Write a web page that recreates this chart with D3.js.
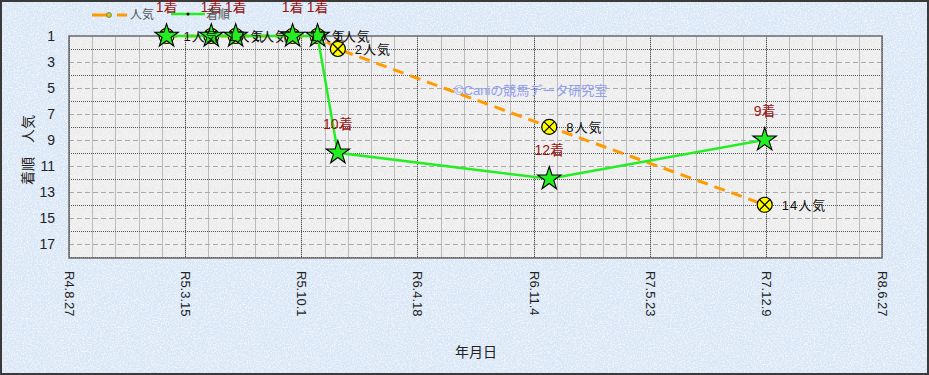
<!DOCTYPE html>
<html>
<head>
<meta charset="utf-8">
<script src="https://cdn.jsdelivr.net/npm/d3@7"></script>
<style>
html, body { margin: 0; padding: 0; background: #fff; }
svg { display: block; font-family: "Liberation Sans", "Noto Sans CJK JP", sans-serif; }
</style>
</head>
<body>
<svg id="chart" width="929" height="375"></svg>
<script>
// race data
var raceDates = ["2023-02-11", "2023-04-29", "2023-06-10", "2023-09-16", "2023-10-29", "2023-12-03", "2024-12-01", "2025-12-07"];
var finish = [1, 1, 1, 1, 1, 10, 12, 9];
var popularity = [1, 1, 1, 1, 1, 2, 8, 14];
// axis
var xTickDates = ["2022-08-27", "2023-03-15", "2023-10-01", "2024-04-18", "2024-11-04", "2025-05-23", "2025-12-09", "2026-06-27"];
var yTickValues = [1, 3, 5, 7, 9, 11, 13, 15, 17];

var parse = d3.utcParse("%Y-%m-%d");
var data = raceDates.map(function(d, i) {
  return {date: parse(d), finish: finish[i], pop: popularity[i]};
});
var xTicks = xTickDates.map(parse);

var svg = d3.select("#chart");
var W = 929, H = 375;
var margin = {top: 36, right: 47, bottom: 117, left: 69};
var width = W - margin.left - margin.right;
var height = H - margin.top - margin.bottom;

// textures (white speckles)
var defs = svg.append("defs");
var f = defs.append("filter").attr("id", "noise").attr("x", 0).attr("y", 0).attr("width", "100%").attr("height", "100%");
f.append("feTurbulence").attr("type", "fractalNoise").attr("baseFrequency", 0.7).attr("numOctaves", 2).attr("seed", 3);
f.append("feColorMatrix").attr("type", "matrix")
  .attr("values", "0 0 0 0 1  0 0 0 0 1  0 0 0 0 1  0 0 0 -3 1.8");
var f2 = defs.append("filter").attr("id", "noise2").attr("x", 0).attr("y", 0).attr("width", "100%").attr("height", "100%");
f2.append("feTurbulence").attr("type", "fractalNoise").attr("baseFrequency", 0.9).attr("numOctaves", 2).attr("seed", 7);
f2.append("feColorMatrix").attr("type", "matrix")
  .attr("values", "0 0 0 0 0.6  0 0 0 0 0.6  0 0 0 0 0.6  0 0 0 3 -1.5");

svg.append("rect").attr("width", W).attr("height", H).attr("fill", "#d8e6f6");
svg.append("rect").attr("width", W).attr("height", H).attr("filter", "url(#noise)").attr("opacity", 0.6);
svg.append("rect").attr("x", 1).attr("y", 1).attr("width", W - 2).attr("height", H - 2)
  .attr("fill", "none").attr("stroke", "#3a3a3a").attr("stroke-width", 2);

var g = svg.append("g").attr("transform", "translate(" + margin.left + "," + margin.top + ")");

g.append("rect").attr("width", width).attr("height", height).attr("fill", "#f1f1f1");
g.append("rect").attr("width", width).attr("height", height).attr("filter", "url(#noise2)").attr("opacity", 0.35);

var xScale = d3.scaleUtc()
  .domain([xTicks[0], xTicks[xTicks.length - 1]])
  .range([0, width]);
var yScale = d3.scaleLinear()
  .domain([1, 18.1])
  .range([0, height]);

// minor vertical grid every 40 days
var minor = d3.range(40, 1400, 40).map(function(n) { return d3.utcDay.offset(xTicks[0], n); });
g.append("g").selectAll("line")
  .data(minor)
  .enter()
  .append("line")
  .attr("x1", function(d) { return Math.round(xScale(d)) + 0.5; })
  .attr("x2", function(d) { return Math.round(xScale(d)) + 0.5; })
  .attr("y1", 0).attr("y2", height)
  .attr("stroke", "#bbbbbb").attr("stroke-width", 1);

// horizontal grid
g.append("g").selectAll("line")
  .data(d3.range(2, 19))
  .enter()
  .append("line")
  .attr("x1", 0).attr("x2", width)
  .attr("y1", function(d) { return Math.round(yScale(d)) + 0.5; })
  .attr("y2", function(d) { return Math.round(yScale(d)) + 0.5; })
  .attr("stroke", function(d) { return d % 2 == 0 ? "#555" : "#aaaaaa"; })
  .attr("stroke-dasharray", function(d) { return d % 2 == 0 ? "1,1" : "5,3"; })
  .attr("stroke-width", 1);

// major vertical grid
g.append("g").selectAll("line")
  .data(xTicks)
  .enter()
  .append("line")
  .attr("x1", function(d) { return Math.round(xScale(d)) + 0.5; })
  .attr("x2", function(d) { return Math.round(xScale(d)) + 0.5; })
  .attr("y1", 0).attr("y2", height)
  .attr("stroke", "#555").attr("stroke-dasharray", "1,1");

g.append("rect").attr("width", width).attr("height", height)
  .attr("fill", "none").attr("stroke", "#6a6a6a").attr("stroke-width", 1.5);

// axes
var yAxis = d3.axisLeft(yScale).tickValues(yTickValues).tickSize(0).tickPadding(14);
var ya = g.append("g").call(yAxis);
ya.select(".domain").remove();
ya.selectAll("text").attr("font-size", "14px").attr("fill", "#222")
  .attr("font-family", "Liberation Sans, sans-serif");

var xAxis = d3.axisBottom(xScale).tickValues(xTicks).tickSize(0)
  .tickFormat(function(d) {
    return "R" + (d.getUTCFullYear() - 2018) + "." + (d.getUTCMonth() + 1) + "." + d.getUTCDate();
  });
var xa = g.append("g").attr("transform", "translate(0," + height + ")").call(xAxis);
xa.select(".domain").remove();
xa.selectAll("text")
  .attr("transform", "rotate(90)")
  .attr("x", 13).attr("y", 0).attr("dy", "0.35em")
  .style("text-anchor", "start")
  .attr("font-size", "13px").attr("fill", "#222");

// legend
var leg = svg.append("g");
leg.append("line").attr("x1", 92).attr("x2", 127).attr("y1", 15).attr("y2", 15)
  .attr("stroke", "#ff9a00").attr("stroke-width", 3).attr("stroke-dasharray", "17,8");
leg.append("circle").attr("cx", 109).attr("cy", 15).attr("r", 2.5).attr("fill", "#cccc00").attr("stroke", "#555").attr("stroke-width", 0.6);
leg.append("text").attr("x", 130).attr("y", 19).attr("font-size", "12px").attr("fill", "#555").text("人気");
leg.append("line").attr("x1", 171).attr("x2", 205).attr("y1", 14).attr("y2", 14)
  .attr("stroke", "#22ee22").attr("stroke-width", 2.5);
leg.append("circle").attr("cx", 188).attr("cy", 14).attr("r", 1.5).attr("fill", "#000");
leg.append("text").attr("x", 206).attr("y", 19).attr("font-size", "12px").attr("fill", "#555").text("着順");

// popularity series (orange dashed)
g.append("path")
  .datum(data)
  .attr("fill", "none")
  .attr("stroke", "#ff9a00")
  .attr("stroke-width", 3)
  .attr("stroke-dasharray", "11,7")
  .attr("d", d3.line()
    .x(function(d) { return xScale(d.date); })
    .y(function(d) { return yScale(d.pop); }));

var pops = g.append("g").selectAll("g")
  .data(data)
  .enter()
  .append("g")
  .attr("transform", function(d) { return "translate(" + xScale(d.date) + "," + yScale(d.pop) + ")"; });
pops.append("circle").attr("r", 7.5).attr("fill", "#ffff00").attr("stroke", "#000").attr("stroke-width", 1.2);
pops.append("path").attr("d", "M-5,-5L5,5M-5,5L5,-5").attr("stroke", "#000").attr("stroke-width", 1.2);

// finish series (green)
g.append("path")
  .datum(data)
  .attr("fill", "none")
  .attr("stroke", "#22ee22")
  .attr("stroke-width", 2.5)
  .attr("d", d3.line()
    .x(function(d) { return xScale(d.date); })
    .y(function(d) { return yScale(d.finish); }));

g.append("g").selectAll("path")
  .data(data)
  .enter()
  .append("path")
  .attr("d", d3.symbol(d3.symbolStar, 170))
  .attr("transform", function(d) { return "translate(" + xScale(d.date) + "," + yScale(d.finish) + ")"; })
  .attr("fill", "#22ee22").attr("stroke", "#000").attr("stroke-width", 1.1);

// labels
g.append("g").selectAll("text")
  .data(data)
  .enter()
  .append("text")
  .text(function(d) { return d.pop + "人気"; })
  .attr("x", function(d) { return xScale(d.date) + 17; })
  .attr("y", function(d) { return yScale(d.pop) + 5; })
  .attr("font-size", "13px")
  .attr("letter-spacing", "1px")
  .attr("fill", "#111");

g.append("g").selectAll("text")
  .data(data)
  .enter()
  .append("text")
  .text(function(d) { return d.finish + "着"; })
  .attr("x", function(d) { return xScale(d.date); })
  .attr("y", function(d) { return yScale(d.finish) - 24; })
  .attr("text-anchor", "middle")
  .attr("font-size", "14px")
  .attr("fill", "#9a1414");

// watermark
g.append("text")
  .attr("x", xScale(parse("2024-06-20")))
  .attr("y", 59)
  .attr("text-anchor", "start")
  .attr("font-size", "13px")
  .attr("fill", "#8e9cf2")
  .text("©Caniの競馬データ研究室");

// axis titles
svg.append("text")
  .attr("transform", "translate(33,150) rotate(-90)")
  .attr("text-anchor", "middle")
  .attr("font-size", "14px")
  .attr("fill", "#222")
  .text("着順　人気");

svg.append("text")
  .attr("x", 476)
  .attr("y", 357)
  .attr("text-anchor", "middle")
  .attr("font-size", "14px")
  .attr("fill", "#222")
  .text("年月日");
</script>
</body>
</html>
